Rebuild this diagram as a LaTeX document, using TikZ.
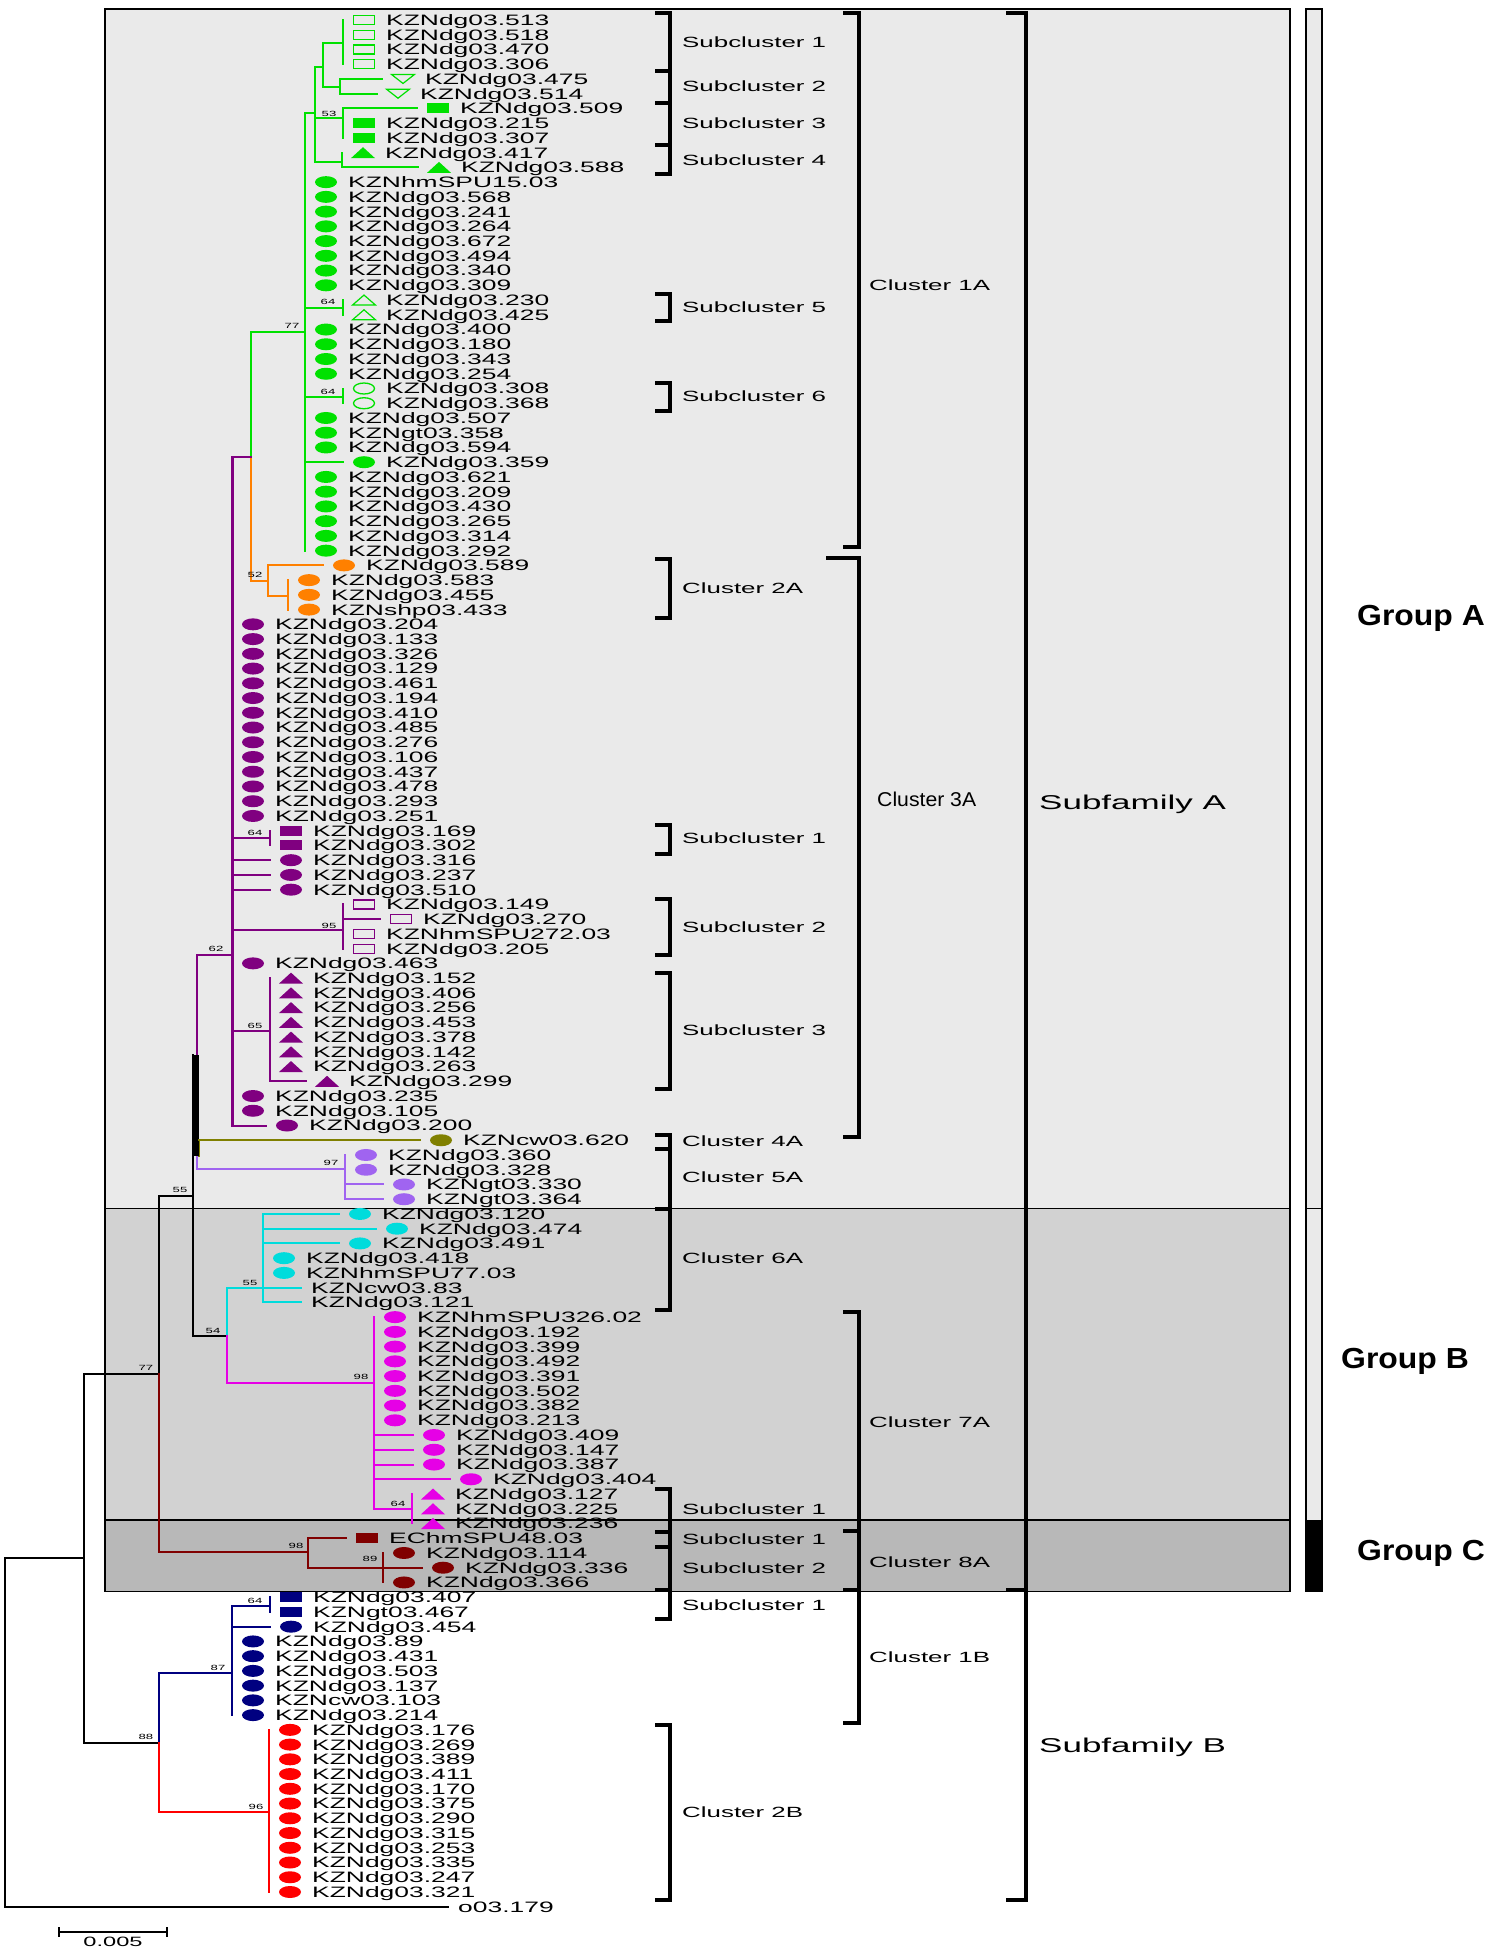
\documentclass[tikz,border=0pt]{standalone}
\usepackage{fontspec}
\setmainfont{Liberation Sans}
\newfontfamily\lblf[FakeStretch=1.75]{Liberation Sans}
\newfontfamily\bigf[FakeStretch=1.06]{Liberation Sans}
\newfontfamily\grpf[FakeStretch=1.1]{Liberation Sans}
\usetikzlibrary{shapes.geometric}
\definecolor{xgrn}{RGB}{0,225,0}
\definecolor{xorn}{RGB}{255,128,0}
\definecolor{xpur}{RGB}{128,0,128}
\definecolor{xolv}{RGB}{128,128,0}
\definecolor{xlav}{RGB}{160,100,240}
\definecolor{xcyn}{RGB}{0,220,220}
\definecolor{xmag}{RGB}{230,0,230}
\definecolor{xbrn}{RGB}{128,0,0}
\definecolor{xnvy}{RGB}{0,0,128}
\definecolor{xred}{RGB}{255,0,0}
\definecolor{bgA}{RGB}{234,234,234}
\definecolor{bgB}{RGB}{210,210,210}
\definecolor{bgC}{RGB}{184,184,184}
\tikzset{
  br/.style={line width=2pt, line cap=rect},
  pbr/.style={line width=3pt, line cap=rect, xpur},
  brk/.style={line width=4.5pt},
  lbl/.style={font=\lblf\fontsize{15.1}{15.1}\selectfont, inner sep=0pt},
  bsv/.style={font=\lblf\fontsize{7.5}{7.5}\selectfont, inner sep=0pt},
  scl/.style={font=\lblf\fontsize{14.8}{14.8}\selectfont, inner sep=0pt, anchor=base west},
  sfl/.style={font=\lblf\fontsize{20}{20}\selectfont, inner sep=0pt, anchor=base west},
  grpl/.style={font=\grpf\bfseries\fontsize{29}{29}\selectfont, inner sep=0pt, anchor=base},
  mkFE/.style={ellipse, minimum width=22pt, minimum height=12pt, inner sep=0pt, draw=none},
  mkOE/.style={ellipse, minimum width=21pt, minimum height=11pt, inner sep=0pt, line width=1.3pt},
  mkFS/.style={rectangle, minimum width=22pt, minimum height=10pt, inner sep=0pt, draw=none},
  mkOS/.style={rectangle, minimum width=21pt, minimum height=9pt, inner sep=0pt, line width=1.2pt},
}
% #1 index, #2 branch start x, #3 branch end x, #4 marker type, #5 colour, #6 text
\newcommand{\tleaf}[6]{%
  \pgfmathsetmacro{\yy}{20+(#1-1)*14.74}%
  \pgfmathsetmacro{\xm}{#3+21}%
  \pgfmathsetmacro{\xt}{#3+43}%
  \draw[br,#5] (#2,\yy) -- (#3,\yy);
  \ifcase#4\relax
    \pgfmathsetmacro{\xt}{#3+10}\coordinate (m#1) at (#3,\yy);
  \or \node[mkFE,fill=#5] (m#1) at (\xm,\yy) {};
  \or \node[mkOE,draw=#5] (m#1) at (\xm,\yy) {};
  \or \node[mkFS,fill=#5] (m#1) at (\xm,\yy) {};
  \or \node[mkOS,draw=#5] (m#1) at (\xm,\yy) {};
  \or \coordinate (m#1) at (\xm,\yy); \fill[#5] (\xm-12,\yy+5.5) -- (\xm+12,\yy+5.5) -- (\xm,\yy-5.5) -- cycle;
  \or \coordinate (m#1) at (\xm,\yy); \draw[#5,line width=1.2pt] (\xm-11.5,\yy+5) -- (\xm+11.5,\yy+5) -- (\xm,\yy-5) -- cycle;
  \or \coordinate (m#1) at (\xm,\yy); \draw[#5,line width=1.2pt] (\xm-11.5,\yy-4.5) -- (\xm+11.5,\yy-4.5) -- (\xm,\yy+4.5) -- cycle;
  \fi
  \node[lbl,anchor=base west] (t#1) at (\xt,\yy+5.4) {#6};
}
\begin{document}
\begin{tikzpicture}[x=1pt,y=-1pt]
\useasboundingbox (0,0) rectangle (1503,1948);
% ---------- group boxes ----------
\fill[bgA] (105,9) rectangle (1290,1208.6);
\fill[bgB] (105,1208.6) rectangle (1290,1520);
\fill[bgC] (105,1520) rectangle (1290,1591.5);
\draw[line width=1.5pt] (105,9) rectangle (1290,1591.5);
\draw[line width=1.5pt] (105,1208.6) -- (1290,1208.6);
\draw[line width=1.5pt] (105,1520) -- (1290,1520);
\fill[bgA] (1306,9) rectangle (1322,1520);
\fill[black] (1306,1520) rectangle (1322,1591.5);
\draw[line width=1.2pt] (1306,9) rectangle (1322,1591.5);
\draw[line width=1.2pt] (1306,1208.6) -- (1322,1208.6);
% ---------- brackets, column 1 ----------
\draw[brk] (655,13) -- (670,13) -- (670,174) -- (655,174);
\draw[brk] (655,71) -- (670,71); \draw[brk] (655,103) -- (670,103); \draw[brk] (655,145) -- (670,145);
\draw[brk] (655,294) -- (670,294) -- (670,321) -- (655,321);
\draw[brk] (655,383) -- (670,383) -- (670,411) -- (655,411);
\draw[brk] (655,559) -- (670,559) -- (670,618) -- (655,618);
\draw[brk] (655,825) -- (670,825) -- (670,854) -- (655,854);
\draw[brk] (655,899) -- (670,899) -- (670,955) -- (655,955);
\draw[brk] (655,973) -- (670,973) -- (670,1089) -- (655,1089);
\draw[brk] (655,1135) -- (670,1135) -- (670,1310) -- (655,1310);
\draw[brk] (655,1149) -- (670,1149); \draw[brk] (655,1209) -- (670,1209);
\draw[brk] (655,1489) -- (670,1489) -- (670,1619) -- (655,1619);
\draw[brk] (655,1532) -- (670,1532); \draw[brk] (655,1547) -- (670,1547); \draw[brk] (655,1590) -- (670,1590);
\draw[brk] (655,1725) -- (670,1725) -- (670,1900) -- (655,1900);
% ---------- brackets, column 2 ----------
\draw[brk] (843,13) -- (859,13) -- (859,547) -- (843,547);
\draw[brk] (826,558) -- (859,558) -- (859,1137) -- (843,1137);
\draw[brk] (843,1312) -- (859,1312) -- (859,1723) -- (843,1723);
\draw[brk] (843,1531) -- (859,1531); \draw[brk] (843,1590) -- (859,1590);
% ---------- brackets, column 3 ----------
\draw[brk] (1006,13) -- (1026,13) -- (1026,1900) -- (1006,1900);
\draw[brk] (1006,1590) -- (1026,1590);
% ---------- bracket labels ----------
\node[scl] (s1) at (682,47.3) {Subcluster 1};
\node[scl] (s2) at (682,91.3) {Subcluster 2};
\node[scl] (s3) at (682,128.3) {Subcluster 3};
\node[scl] (s4) at (682,165.3) {Subcluster 4};
\node[scl] (s5) at (682,312.3) {Subcluster 5};
\node[scl] (s6) at (682,401.3) {Subcluster 6};
\node[scl] (c2a) at (682,593.3) {Cluster 2A};
\node[scl] (s31) at (682,843.3) {Subcluster 1};
\node[scl] (s32) at (682,932.3) {Subcluster 2};
\node[scl] (s33) at (682,1035.3) {Subcluster 3};
\node[scl] (c4a) at (682,1146.3) {Cluster 4A};
\node[scl] (c5a) at (682,1182.3) {Cluster 5A};
\node[scl] (c6a) at (682,1263.3) {Cluster 6A};
\node[scl] (s71) at (682,1514.3) {Subcluster 1};
\node[scl] (s81) at (682,1544.3) {Subcluster 1};
\node[scl] (s82) at (682,1573.3) {Subcluster 2};
\node[scl] (s1b) at (682,1610.3) {Subcluster 1};
\node[scl] (c2b) at (682,1817.3) {Cluster 2B};
\node[scl] (c1a) at (869,290.3) {Cluster 1A};
\node[font=\bigf\fontsize{20}{20}\selectfont, inner sep=0pt, anchor=base west] (c3a) at (877,806.2) {Cluster 3A};
\node[scl] (c7a) at (869,1427.3) {Cluster 7A};
\node[scl] (c8a) at (869,1567.3) {Cluster 8A};
\node[scl] (c1b) at (869,1662.3) {Cluster 1B};
\node[sfl] (sfa) at (1039,809.2) {Subfamily A};
\node[sfl] (sfb) at (1039,1752.2) {Subfamily B};
\node[grpl] (ga) at (1421,625.4) {Group A};
\node[grpl] (gb) at (1405,1368.4) {Group B};
\node[grpl] (gc) at (1421,1560.4) {Group C};
% ---------- internal branches ----------
% green
\draw[br,xgrn] (343,20) -- (343,64.22);
\draw[br,xgrn] (340,78.96) -- (340,93.70);
\draw[br,xgrn] (343,43) -- (323,43) -- (323,87) -- (340,87);
\draw[br,xgrn] (315,67) -- (323,67);
\draw[br,xgrn] (343,108.44) -- (343,137.92);
\draw[br,xgrn] (315,118) -- (343,118);
\draw[br,xgrn] (342,152.66) -- (342,167.4);
\draw[br,xgrn] (315,162) -- (342,162);
\draw[br,xgrn] (315,67) -- (315,162);
\draw[br,xgrn] (305,113) -- (315,113);
\draw[br,xgrn] (305,113) -- (305,550.64);
\draw[br,xgrn] (305,308) -- (343,308);
\draw[br,xgrn] (343,300.06) -- (343,314.8);
\draw[br,xgrn] (305,397) -- (343,397);
\draw[br,xgrn] (343,388.5) -- (343,403.24);
\draw[br,xgrn] (305,332) -- (251,332) -- (251,457);
% orange
\draw[br,xorn] (251,457) -- (251,581) -- (268,581);
\draw[br,xorn] (268,565.38) -- (268,596) -- (288,596);
\draw[br,xorn] (288,580.12) -- (288,609.6);
% purple
\draw[br,xpur] (232,457) -- (251,457);
\draw[pbr] (232,457) -- (232,1125.5);
\draw[br,xpur] (232,838) -- (270,838);
\draw[br,xpur] (270,830.7) -- (270,845.44);
\draw[br,xpur] (232,930) -- (343,930);
\draw[br,xpur] (343,904.4) -- (343,948.62);
\draw[br,xpur] (232,1031) -- (270,1031);
\draw[br,xpur] (270,978.1) -- (270,1081.28);
\draw[br,xpur] (232,955) -- (197,955) -- (197,1055);
% lavender
\draw[br,xlav] (197,1156) -- (197,1169) -- (345,1169);
\draw[br,xlav] (345,1154.98) -- (345,1199.2);
% olive stub
\draw[br,xolv] (199,1140.24) -- (199,1156);
% black backbone
\draw[br] (193,1055) -- (193,1336) -- (227,1336);
\draw[line width=5pt] (196,1055) -- (196,1156);
\draw[br] (159,1196) -- (193,1196);
\draw[br] (159,1196) -- (159,1374);
\draw[br] (84,1374) -- (159,1374);
\draw[br] (84,1374) -- (84,1743) -- (159,1743);
\draw[br] (84,1558) -- (5,1558) -- (5,1906.72);
% cyan
\draw[br,xcyn] (227,1336) -- (227,1287.64) -- (263,1287.64);
\draw[br,xcyn] (263,1213.94) -- (263,1302.38);
% magenta
\draw[br,xmag] (227,1336) -- (227,1383) -- (374,1383);
\draw[br,xmag] (374,1317.12) -- (374,1509);
\draw[br,xmag] (374,1509) -- (412,1509);
\draw[br,xmag] (412,1494) -- (412,1523.48);
% brown
\draw[br,xbrn] (159,1374) -- (159,1552) -- (308,1552);
\draw[br,xbrn] (308,1538.22) -- (308,1567.7) -- (383,1567.7);
\draw[br,xbrn] (383,1552.96) -- (383,1582.44);
% navy
\draw[br,xnvy] (159,1743) -- (159,1673) -- (232,1673);
\draw[br,xnvy] (232,1606) -- (232,1715.1);
\draw[br,xnvy] (232,1606) -- (270,1606);
\draw[br,xnvy] (270,1597.18) -- (270,1611.92);
% red
\draw[br,xred] (159,1743) -- (159,1812) -- (269,1812);
\draw[br,xred] (269,1729.84) -- (269,1891.98);
% ---------- bootstrap values ----------
\node[bsv] (b1) at (329,114) {53};
\node[bsv] (b2) at (328,302) {64};
\node[bsv] (b3) at (292,326) {77};
\node[bsv] (b4) at (328,392) {64};
\node[bsv] (b5) at (255,575) {52};
\node[bsv] (b6) at (255,833) {64};
\node[bsv] (b7) at (329,926) {95};
\node[bsv] (b8) at (216,949) {62};
\node[bsv] (b9) at (255,1026) {65};
\node[bsv] (b10) at (331,1163) {97};
\node[bsv] (b11) at (180,1190) {55};
\node[bsv] (b12) at (250,1283) {55};
\node[bsv] (b13) at (213,1331) {54};
\node[bsv] (b14) at (146,1368) {77};
\node[bsv] (b15) at (361,1377) {98};
\node[bsv] (b16) at (398,1504) {64};
\node[bsv] (b17) at (296,1546) {98};
\node[bsv] (b18) at (370,1559) {89};
\node[bsv] (b19) at (255,1601) {64};
\node[bsv] (b20) at (218,1668) {87};
\node[bsv] (b21) at (146,1737) {88};
\node[bsv] (b22) at (256,1807) {96};
% ---------- leaves ----------
\tleaf{1}{343}{343}{4}{xgrn}{KZNdg03.513}
\tleaf{2}{343}{343}{4}{xgrn}{KZNdg03.518}
\tleaf{3}{343}{343}{4}{xgrn}{KZNdg03.470}
\tleaf{4}{343}{343}{4}{xgrn}{KZNdg03.306}
\tleaf{5}{340}{382}{7}{xgrn}{KZNdg03.475}
\tleaf{6}{340}{377}{7}{xgrn}{KZNdg03.514}
\tleaf{7}{343}{417}{3}{xgrn}{KZNdg03.509}
\tleaf{8}{343}{343}{3}{xgrn}{KZNdg03.215}
\tleaf{9}{343}{343}{3}{xgrn}{KZNdg03.307}
\tleaf{10}{342}{342}{5}{xgrn}{KZNdg03.417}
\tleaf{11}{342}{418}{5}{xgrn}{KZNdg03.588}
\tleaf{12}{305}{305}{1}{xgrn}{KZNhmSPU15.03}
\tleaf{13}{305}{305}{1}{xgrn}{KZNdg03.568}
\tleaf{14}{305}{305}{1}{xgrn}{KZNdg03.241}
\tleaf{15}{305}{305}{1}{xgrn}{KZNdg03.264}
\tleaf{16}{305}{305}{1}{xgrn}{KZNdg03.672}
\tleaf{17}{305}{305}{1}{xgrn}{KZNdg03.494}
\tleaf{18}{305}{305}{1}{xgrn}{KZNdg03.340}
\tleaf{19}{305}{305}{1}{xgrn}{KZNdg03.309}
\tleaf{20}{343}{343}{6}{xgrn}{KZNdg03.230}
\tleaf{21}{343}{343}{6}{xgrn}{KZNdg03.425}
\tleaf{22}{305}{305}{1}{xgrn}{KZNdg03.400}
\tleaf{23}{305}{305}{1}{xgrn}{KZNdg03.180}
\tleaf{24}{305}{305}{1}{xgrn}{KZNdg03.343}
\tleaf{25}{305}{305}{1}{xgrn}{KZNdg03.254}
\tleaf{26}{343}{343}{2}{xgrn}{KZNdg03.308}
\tleaf{27}{343}{343}{2}{xgrn}{KZNdg03.368}
\tleaf{28}{305}{305}{1}{xgrn}{KZNdg03.507}
\tleaf{29}{305}{305}{1}{xgrn}{KZNgt03.358}
\tleaf{30}{305}{305}{1}{xgrn}{KZNdg03.594}
\tleaf{31}{305}{343}{1}{xgrn}{KZNdg03.359}
\tleaf{32}{305}{305}{1}{xgrn}{KZNdg03.621}
\tleaf{33}{305}{305}{1}{xgrn}{KZNdg03.209}
\tleaf{34}{305}{305}{1}{xgrn}{KZNdg03.430}
\tleaf{35}{305}{305}{1}{xgrn}{KZNdg03.265}
\tleaf{36}{305}{305}{1}{xgrn}{KZNdg03.314}
\tleaf{37}{305}{305}{1}{xgrn}{KZNdg03.292}
\tleaf{38}{268}{323}{1}{xorn}{KZNdg03.589}
\tleaf{39}{288}{288}{1}{xorn}{KZNdg03.583}
\tleaf{40}{288}{288}{1}{xorn}{KZNdg03.455}
\tleaf{41}{288}{288}{1}{xorn}{KZNshp03.433}
\tleaf{42}{232}{232}{1}{xpur}{KZNdg03.204}
\tleaf{43}{232}{232}{1}{xpur}{KZNdg03.133}
\tleaf{44}{232}{232}{1}{xpur}{KZNdg03.326}
\tleaf{45}{232}{232}{1}{xpur}{KZNdg03.129}
\tleaf{46}{232}{232}{1}{xpur}{KZNdg03.461}
\tleaf{47}{232}{232}{1}{xpur}{KZNdg03.194}
\tleaf{48}{232}{232}{1}{xpur}{KZNdg03.410}
\tleaf{49}{232}{232}{1}{xpur}{KZNdg03.485}
\tleaf{50}{232}{232}{1}{xpur}{KZNdg03.276}
\tleaf{51}{232}{232}{1}{xpur}{KZNdg03.106}
\tleaf{52}{232}{232}{1}{xpur}{KZNdg03.437}
\tleaf{53}{232}{232}{1}{xpur}{KZNdg03.478}
\tleaf{54}{232}{232}{1}{xpur}{KZNdg03.293}
\tleaf{55}{232}{232}{1}{xpur}{KZNdg03.251}
\tleaf{56}{270}{270}{3}{xpur}{KZNdg03.169}
\tleaf{57}{270}{270}{3}{xpur}{KZNdg03.302}
\tleaf{58}{232}{270}{1}{xpur}{KZNdg03.316}
\tleaf{59}{232}{270}{1}{xpur}{KZNdg03.237}
\tleaf{60}{232}{270}{1}{xpur}{KZNdg03.510}
\tleaf{61}{343}{343}{4}{xpur}{KZNdg03.149}
\tleaf{62}{343}{380}{4}{xpur}{KZNdg03.270}
\tleaf{63}{343}{343}{4}{xpur}{KZNhmSPU272.03}
\tleaf{64}{343}{343}{4}{xpur}{KZNdg03.205}
\tleaf{65}{232}{232}{1}{xpur}{KZNdg03.463}
\tleaf{66}{270}{270}{5}{xpur}{KZNdg03.152}
\tleaf{67}{270}{270}{5}{xpur}{KZNdg03.406}
\tleaf{68}{270}{270}{5}{xpur}{KZNdg03.256}
\tleaf{69}{270}{270}{5}{xpur}{KZNdg03.453}
\tleaf{70}{270}{270}{5}{xpur}{KZNdg03.378}
\tleaf{71}{270}{270}{5}{xpur}{KZNdg03.142}
\tleaf{72}{270}{270}{5}{xpur}{KZNdg03.263}
\tleaf{73}{270}{306}{5}{xpur}{KZNdg03.299}
\tleaf{74}{232}{232}{1}{xpur}{KZNdg03.235}
\tleaf{75}{232}{232}{1}{xpur}{KZNdg03.105}
\tleaf{76}{232}{266}{1}{xpur}{KZNdg03.200}
\tleaf{77}{199}{420}{1}{xolv}{KZNcw03.620}
\tleaf{78}{345}{345}{1}{xlav}{KZNdg03.360}
\tleaf{79}{345}{345}{1}{xlav}{KZNdg03.328}
\tleaf{80}{345}{383}{1}{xlav}{KZNgt03.330}
\tleaf{81}{345}{383}{1}{xlav}{KZNgt03.364}
\tleaf{82}{263}{339}{1}{xcyn}{KZNdg03.120}
\tleaf{83}{263}{376}{1}{xcyn}{KZNdg03.474}
\tleaf{84}{263}{339}{1}{xcyn}{KZNdg03.491}
\tleaf{85}{263}{263}{1}{xcyn}{KZNdg03.418}
\tleaf{86}{263}{263}{1}{xcyn}{KZNhmSPU77.03}
\tleaf{87}{263}{301}{0}{xcyn}{KZNcw03.83}
\tleaf{88}{263}{301}{0}{xcyn}{KZNdg03.121}
\tleaf{89}{374}{374}{1}{xmag}{KZNhmSPU326.02}
\tleaf{90}{374}{374}{1}{xmag}{KZNdg03.192}
\tleaf{91}{374}{374}{1}{xmag}{KZNdg03.399}
\tleaf{92}{374}{374}{1}{xmag}{KZNdg03.492}
\tleaf{93}{374}{374}{1}{xmag}{KZNdg03.391}
\tleaf{94}{374}{374}{1}{xmag}{KZNdg03.502}
\tleaf{95}{374}{374}{1}{xmag}{KZNdg03.382}
\tleaf{96}{374}{374}{1}{xmag}{KZNdg03.213}
\tleaf{97}{374}{413}{1}{xmag}{KZNdg03.409}
\tleaf{98}{374}{413}{1}{xmag}{KZNdg03.147}
\tleaf{99}{374}{413}{1}{xmag}{KZNdg03.387}
\tleaf{100}{374}{450}{1}{xmag}{KZNdg03.404}
\tleaf{101}{412}{412}{5}{xmag}{KZNdg03.127}
\tleaf{102}{412}{412}{5}{xmag}{KZNdg03.225}
\tleaf{103}{412}{412}{5}{xmag}{KZNdg03.236}
\tleaf{104}{308}{346}{3}{xbrn}{EChmSPU48.03}
\tleaf{105}{383}{383}{1}{xbrn}{KZNdg03.114}
\tleaf{106}{383}{422}{1}{xbrn}{KZNdg03.336}
\tleaf{107}{383}{383}{1}{xbrn}{KZNdg03.366}
\tleaf{108}{270}{270}{3}{xnvy}{KZNdg03.407}
\tleaf{109}{270}{270}{3}{xnvy}{KZNgt03.467}
\tleaf{110}{232}{270}{1}{xnvy}{KZNdg03.454}
\tleaf{111}{232}{232}{1}{xnvy}{KZNdg03.89}
\tleaf{112}{232}{232}{1}{xnvy}{KZNdg03.431}
\tleaf{113}{232}{232}{1}{xnvy}{KZNdg03.503}
\tleaf{114}{232}{232}{1}{xnvy}{KZNdg03.137}
\tleaf{115}{232}{232}{1}{xnvy}{KZNcw03.103}
\tleaf{116}{232}{232}{1}{xnvy}{KZNdg03.214}
\tleaf{117}{269}{269}{1}{xred}{KZNdg03.176}
\tleaf{118}{269}{269}{1}{xred}{KZNdg03.269}
\tleaf{119}{269}{269}{1}{xred}{KZNdg03.389}
\tleaf{120}{269}{269}{1}{xred}{KZNdg03.411}
\tleaf{121}{269}{269}{1}{xred}{KZNdg03.170}
\tleaf{122}{269}{269}{1}{xred}{KZNdg03.375}
\tleaf{123}{269}{269}{1}{xred}{KZNdg03.290}
\tleaf{124}{269}{269}{1}{xred}{KZNdg03.315}
\tleaf{125}{269}{269}{1}{xred}{KZNdg03.253}
\tleaf{126}{269}{269}{1}{xred}{KZNdg03.335}
\tleaf{127}{269}{269}{1}{xred}{KZNdg03.247}
\tleaf{128}{269}{269}{1}{xred}{KZNdg03.321}
\tleaf{129}{5}{448}{0}{black}{o03.179}
% ---------- scale bar ----------
\coordinate (sbl) at (59,1932);
\coordinate (sbr) at (167,1932);
\draw[line width=2pt] (sbl) -- (sbr);
\draw[line width=2pt] (59,1927) -- (59,1937);
\draw[line width=2pt] (167,1927) -- (167,1937);
\node[font=\lblf\fontsize{13.5}{13.5}\selectfont, inner sep=0pt, anchor=base] (sbt) at (113,1946.5) {0.005};
\end{tikzpicture}
\end{document}
